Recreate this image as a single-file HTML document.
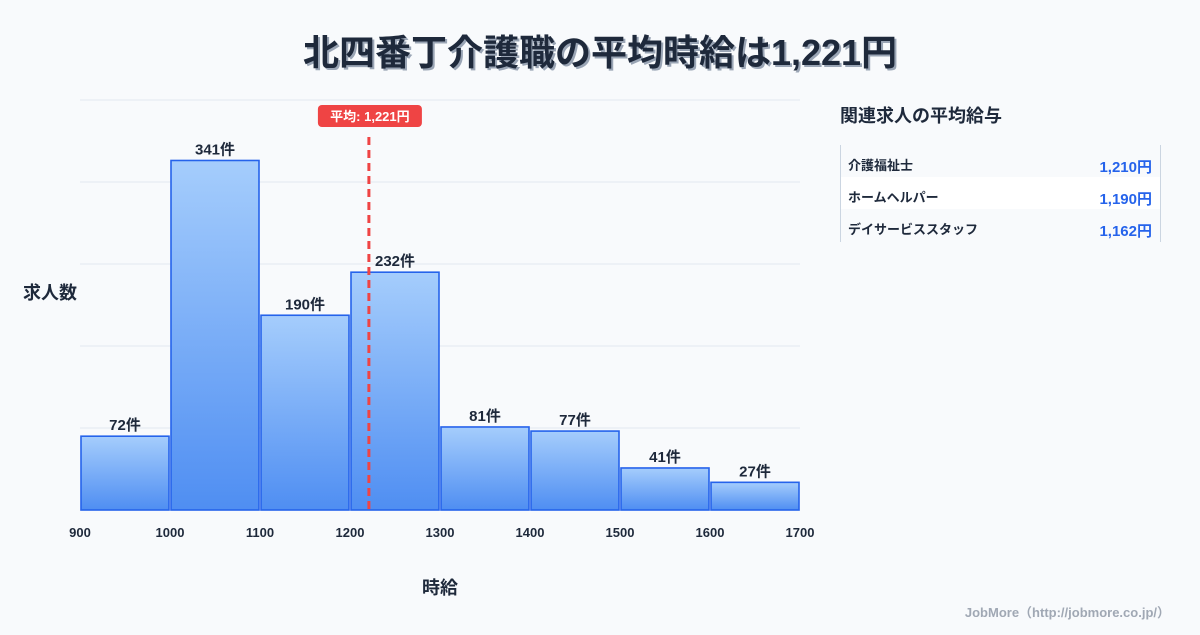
<!DOCTYPE html>
<html><head><meta charset="utf-8"><style>
body{margin:0;background:#f8fafc;font-family:"Liberation Sans","Noto Sans CJK JP",sans-serif;}
svg text{font-family:"Liberation Sans","Noto Sans CJK JP",sans-serif;}
</style></head><body>
<svg id="c" width="1200" height="630" viewBox="0 0 1200 630">
<defs><linearGradient id="g" x1="0" y1="0" x2="0" y2="1"><stop offset="0" stop-color="#a5cdfc"/><stop offset="1" stop-color="#4f8ef2"/></linearGradient></defs>
<rect width="1200" height="630" fill="#f8fafc"/>
<text x="602" y="67" text-anchor="middle" font-size="36" font-weight="bold" fill="#9aa5b5">北四番丁介護職の平均時給は1,221円</text>
<text x="600" y="65" text-anchor="middle" font-size="36" font-weight="bold" fill="#1e293b">北四番丁介護職の平均時給は1,221円</text>
<g id="grid"></g><g id="bars"></g><g id="xt"></g>
<text x="50" y="299" text-anchor="middle" font-size="18" font-weight="bold" fill="#1e293b">求人数</text>
<text x="440" y="594" text-anchor="middle" font-size="18" font-weight="bold" fill="#1e293b">時給</text>
<g id="mean"></g>
<text x="840" y="122" font-size="18" font-weight="bold" fill="#1e293b">関連求人の平均給与</text>
<line x1="840.5" y1="145" x2="840.5" y2="242" stroke="#cbd5e1"/>
<line x1="1160.5" y1="145" x2="1160.5" y2="242" stroke="#cbd5e1"/>
<rect x="841" y="177" width="319" height="32" fill="#ffffff"/>
<g id="side"></g>
<text x="1170" y="617" text-anchor="end" font-size="13" font-weight="bold" fill="#a0a8b4">JobMore（http://jobmore.co.jp/）</text>
</svg>
<script>
const binStarts=[900,1000,1100,1200,1300,1400,1500,1600];
const counts=[72,341,190,232,81,77,41,27];
const xTicks=[900,1000,1100,1200,1300,1400,1500,1600,1700];
const yGrid=[0,80,160,240,320,400];
const meanValue=1221;
const jobNames=["介護福祉士","ホームヘルパー","デイサービススタッフ"];
const jobWages=[1210,1190,1162];
const NS="http://www.w3.org/2000/svg";
const X=v=>80+(v-900)*0.9, Y=v=>510-v*1.025;
function mk(t,a,p,txt){const e=document.createElementNS(NS,t);for(const k in a)e.setAttribute(k,a[k]);if(txt!=null)e.textContent=txt;document.getElementById(p).appendChild(e);return e;}
yGrid.forEach(v=>{const e=mk('line',{x1:80,x2:800,y1:Y(v),y2:Y(v),stroke:v===0?'#cbd5e1':'#e2e8f0'},'grid');

});
xTicks.forEach(v=>{const e=mk('text',{x:X(v),y:537,'text-anchor':'middle','font-size':13,'font-weight':'bold',fill:'#1e293b'},'xt',String(v));

});
counts.forEach((c,i)=>{const x0=X(binStarts[i])+1,x1=X(binStarts[i]+100)-1;
const r=mk('rect',{x:x0,y:Y(c),width:x1-x0,height:510-Y(c),fill:'url(#g)',stroke:'#2563eb','stroke-width':1.6},'bars');


const t=mk('text',{x:(x0+x1)/2,y:Y(c)-6,'text-anchor':'middle','font-size':15,'font-weight':'bold',fill:'#1e293b'},'bars',c+'件');

});
const mx=X(meanValue);
const ml=mk('line',{x1:mx,x2:mx,y1:137,y2:510,stroke:'#ef4444','stroke-width':3,'stroke-dasharray':'8,5'},'mean');


const mb=mk('rect',{x:mx-51,y:105,width:104,height:22,rx:4,fill:'#ef4444'},'mean');


const mt=mk('text',{x:mx+1,y:121,'text-anchor':'middle','font-size':13,'font-weight':'bold',fill:'#fff'},'mean','平均: '+meanValue.toLocaleString('en-US')+'円');


jobNames.forEach((n,i)=>{const y=166+i*32+4;
const a=mk('text',{x:848,y:y,'font-size':13,'font-weight':'bold',fill:'#1e293b'},'side',n);


const b=mk('text',{x:1152,y:y+2,'text-anchor':'end','font-size':15,'font-weight':'bold',fill:'#2563eb'},'side',jobWages[i].toLocaleString('en-US')+'円');

});
</script>
</body></html>
